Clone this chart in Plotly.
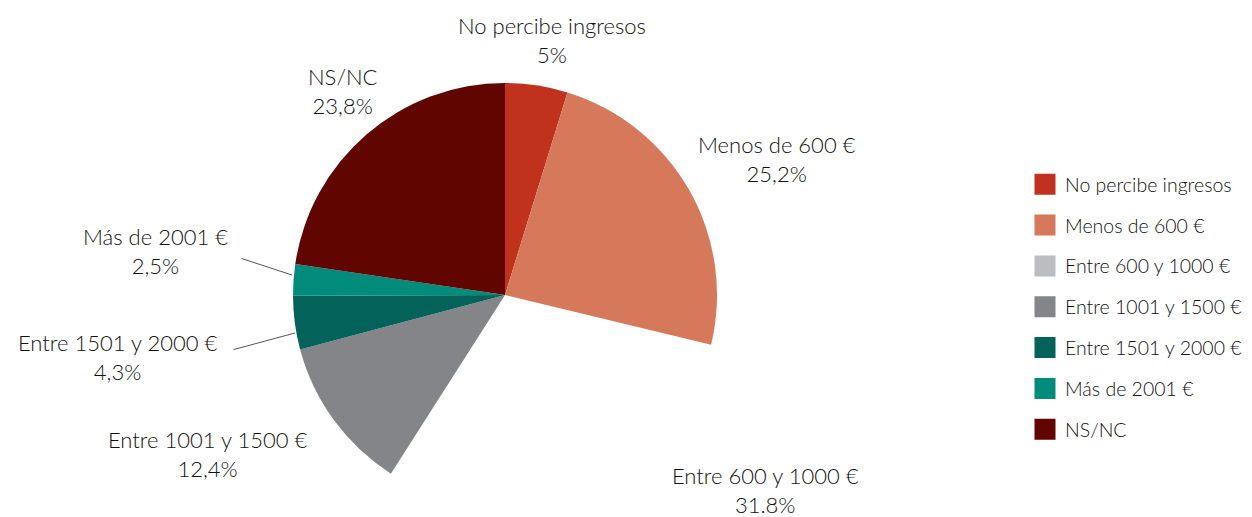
import plotly.graph_objects as go

categories = ["No percibe ingresos", "Menos de 600 €", "Entre 600 y 1000 €",
              "Entre 1001 y 1500 €", "Entre 1501 y 2000 €", "Más de 2001 €", "NS/NC"]
values = [5.0, 25.2, 31.8, 12.4, 4.3, 2.5, 23.8]
pct_labels = ["5%", "25,2%", "31.8%", "12,4%", "4,3%", "2,5%", "23,8%"]
legend_colors = ["#c0311e", "#d6795a", "#bcbdc1", "#838589", "#03625a", "#008b7a", "#610500"]
slice_colors = ["#c0311e", "#d6795a", "rgba(255,255,255,0)", "#838589", "#03625a", "#008b7a", "#610500"]

OFF = 8  # page body margin
W, H = 1252 - OFF, 517 - OFF
FONT = "Lato, 'Open Sans', sans-serif"
TXT = "#111111"


def px2paper(px, py):
    return (px - OFF) / W, 1 - (py - OFF) / H


# label anchor positions (screen pixels) for each category
label_px = [(552, 40), (777, 159), (765, 490), (207, 454), (117, 357), (155, 251), (343, 91)]
# leader lines: (slice point, label-side point)
leaders = {5: ((292, 275), (240, 258)), 4: ((295, 333), (232, 350))}

fig = go.Figure()

cx, cy, r = 505, 295, 212
x0p, y1p = px2paper(cx - r, cy - r)
x1p, y0p = px2paper(cx + r, cy + r)
fig.add_trace(go.Pie(
    labels=categories, values=values, sort=False, direction="clockwise", rotation=0,
    marker=dict(colors=slice_colors, line=dict(width=0)),
    textinfo="none", hoverinfo="label+value", showlegend=False,
    domain=dict(x=[x0p, x1p], y=[y0p, y1p]),
))

for i, (cat, col) in enumerate(zip(categories, legend_colors)):
    fig.add_trace(go.Scatter(
        x=[None], y=[None], mode="markers", name=cat, legendgroup=cat,
        marker=dict(symbol="square", size=16, color=col, line=dict(width=10, color=col)),
        showlegend=True,
    ))

annotations = []
for i, (cat, pct) in enumerate(zip(categories, pct_labels)):
    ax_, ay_ = px2paper(*label_px[i])
    annotations.append(dict(
        x=ax_, y=ay_, xref="paper", yref="paper",
        text=f"{cat}<br>{pct}", showarrow=False, align="center",
        xanchor="center", yanchor="middle",
        font=dict(family=FONT, size=22, color=TXT, weight=300),
    ))
for i, ((xa, ya), (xb, yb)) in leaders.items():
    pxa, pya = px2paper(xa, ya)
    annotations.append(dict(
        x=pxa, y=pya, xref="paper", yref="paper",
        ax=xb - xa, ay=yb - ya, text="", showarrow=True,
        arrowhead=0, arrowwidth=1, arrowcolor="#555555", standoff=0, startstandoff=0,
    ))

lx, ly = px2paper(1025, 165)
fig.update_layout(
    width=W, height=H,
    margin=dict(l=0, r=0, t=0, b=0),
    paper_bgcolor="white", plot_bgcolor="white",
    xaxis=dict(visible=False, domain=[0.99, 1]), yaxis=dict(visible=False, domain=[0.99, 1]),
    annotations=annotations,
    legend=dict(
        x=lx, y=ly, xanchor="left", yanchor="top",
        font=dict(family=FONT, size=19.5, color=TXT, weight=300),
        tracegroupgap=12.5, bgcolor="rgba(0,0,0,0)",
    ),
    showlegend=True,
)

fig.write_html("out.html")
